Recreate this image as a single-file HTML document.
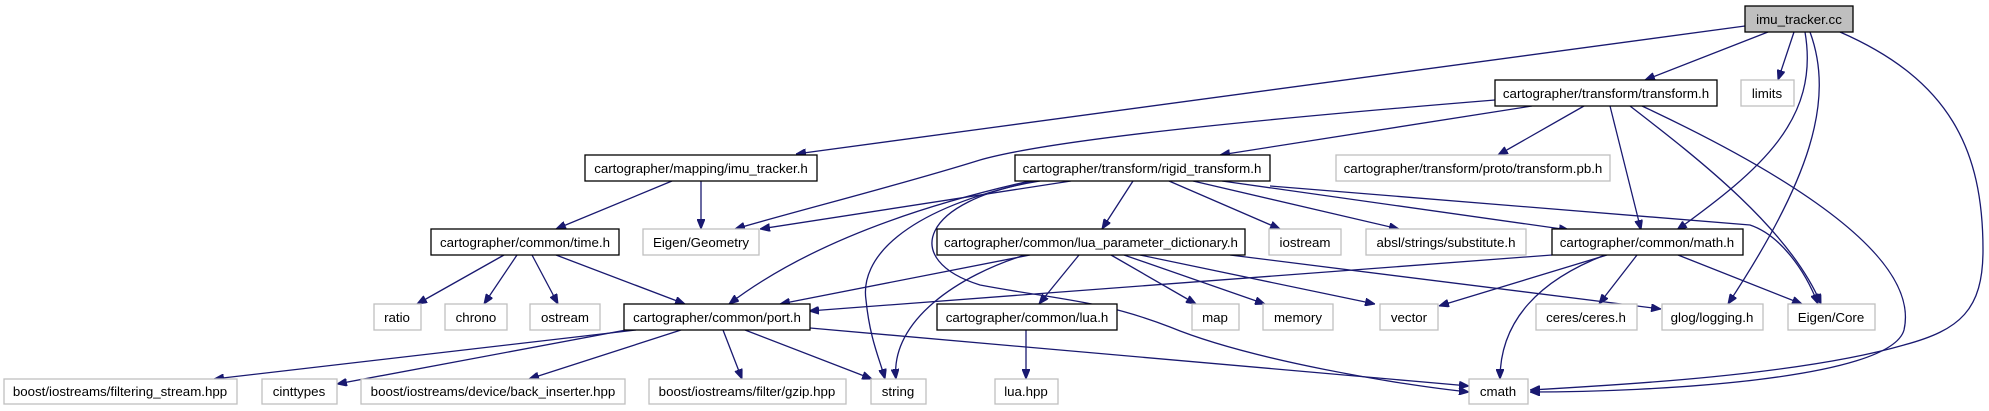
<!DOCTYPE html>
<html><head><meta charset="utf-8"><style>
html,body{margin:0;padding:0;background:#fff;}
svg{display:block;}
text{font-family:"Liberation Sans",Arial,sans-serif;font-size:13.3px;fill:#000;}
.e{fill:none;stroke:#191970;stroke-width:1.3;}
.b{fill:#fff;stroke:#000;stroke-width:1.3;}
.g{fill:#fff;stroke:#bfbfbf;stroke-width:1.3;}
</style></head><body>
<svg width="1989" height="411" viewBox="0 0 1989 411" xmlns="http://www.w3.org/2000/svg">
<defs><marker id="a" viewBox="0 0 10 8" refX="10" refY="4" markerWidth="10" markerHeight="8" markerUnits="userSpaceOnUse" orient="auto"><path d="M0,0 L10,4 L0,8 z" fill="#191970" stroke="#191970"/></marker></defs>
<g marker-end="url(#a)">
<path class="e" d="M1745,26 L796,154"/>
<path class="e" d="M1768,32 L1645,80"/>
<path class="e" d="M1794,32 L1778,80"/>
<path class="e" d="M1805,32 C1820,120 1760,170 1677,230"/>
<path class="e" d="M1810,32 C1835,100 1810,180 1728,304"/>
<path class="e" d="M1840,32 C1950,80 1983,150 1983,250 C1983,310 1960,330 1904,345 C1800,375 1620,385 1530,390"/>
<path class="e" d="M1495,100 C1250,120 1050,140 980,160 C900,185 800,210 735,229"/>
<path class="e" d="M1532,106 L1220,155"/>
<path class="e" d="M1584,106 L1498,155"/>
<path class="e" d="M1610,106 L1641,230"/>
<path class="e" d="M1630,106 C1700,160 1790,230 1821,304"/>
<path class="e" d="M1642,106 C1800,180 1920,260 1904,330 C1890,380 1650,392 1530,392"/>
<path class="e" d="M672,181 L556,229"/>
<path class="e" d="M701,181 L701,229"/>
<path class="e" d="M1071,181 L760,229"/>
<path class="e" d="M1030,181 C900,210 800,250 729,304"/>
<path class="e" d="M1035,181 C900,210 860,260 866,300 C870,340 880,360 885,379"/>
<path class="e" d="M1040,181 C920,200 900,260 980,285 C1060,300 1100,300 1170,327 C1250,360 1400,385 1469,392"/>
<path class="e" d="M1133,181 L1102,229"/>
<path class="e" d="M1169,181 L1280,229"/>
<path class="e" d="M1193,181 L1399,229"/>
<path class="e" d="M1222,181 L1569,230"/>
<path class="e" d="M1270,186 L1750,225 C1780,235 1805,270 1818,304"/>
<path class="e" d="M1030,255 L780,304"/>
<path class="e" d="M1025,255 C960,275 890,320 896,379"/>
<path class="e" d="M1079,255 L1039,304"/>
<path class="e" d="M1111,255 L1196,304"/>
<path class="e" d="M1124,255 L1265,304"/>
<path class="e" d="M1140,255 L1375,304"/>
<path class="e" d="M1230,255 L1661,309"/>
<path class="e" d="M504,255 L417,304"/>
<path class="e" d="M517,255 L484,304"/>
<path class="e" d="M532,255 L558,304"/>
<path class="e" d="M556,255 L685,304"/>
<path class="e" d="M1552,255 L809,311"/>
<path class="e" d="M1607,255 L1439,306"/>
<path class="e" d="M1637,255 L1599,304"/>
<path class="e" d="M1678,255 L1802,304"/>
<path class="e" d="M1605,255 C1540,280 1500,320 1500,379"/>
<path class="e" d="M636,330 L214,379"/>
<path class="e" d="M626,330 L337,384"/>
<path class="e" d="M681,330 L529,379"/>
<path class="e" d="M723,330 L742,379"/>
<path class="e" d="M745,330 L872,379"/>
<path class="e" d="M810,328 L1469,386"/>
<path class="e" d="M1026,330 L1026,379"/>
</g>
<rect x="1745" y="6" width="108" height="26" fill="#bfbfbf" stroke="#000" stroke-width="1.3"/><text x="1799" y="24" text-anchor="middle">imu_tracker.cc</text>
<rect class="b" x="1495" y="80" width="222" height="26"/><text x="1606" y="98" text-anchor="middle">cartographer/transform/transform.h</text>
<rect class="g" x="1741" y="80" width="53" height="26"/><text x="1767" y="98" text-anchor="middle">limits</text>
<rect class="b" x="585" y="155" width="232" height="26"/><text x="701" y="173" text-anchor="middle">cartographer/mapping/imu_tracker.h</text>
<rect class="b" x="1015" y="155" width="255" height="26"/><text x="1142" y="173" text-anchor="middle">cartographer/transform/rigid_transform.h</text>
<rect class="g" x="1336" y="155" width="274" height="26"/><text x="1473" y="173" text-anchor="middle">cartographer/transform/proto/transform.pb.h</text>
<rect class="b" x="431" y="229" width="188" height="26"/><text x="525" y="247" text-anchor="middle">cartographer/common/time.h</text>
<rect class="g" x="643" y="229" width="116" height="26"/><text x="701" y="247" text-anchor="middle">Eigen/Geometry</text>
<rect class="b" x="937" y="229" width="308" height="26"/><text x="1091" y="247" text-anchor="middle">cartographer/common/lua_parameter_dictionary.h</text>
<rect class="g" x="1269" y="229" width="72" height="26"/><text x="1305" y="247" text-anchor="middle">iostream</text>
<rect class="g" x="1366" y="229" width="160" height="26"/><text x="1446" y="247" text-anchor="middle">absl/strings/substitute.h</text>
<rect class="b" x="1552" y="229" width="191" height="26"/><text x="1647" y="247" text-anchor="middle">cartographer/common/math.h</text>
<rect class="g" x="374" y="304" width="47" height="26"/><text x="397" y="322" text-anchor="middle">ratio</text>
<rect class="g" x="445" y="304" width="62" height="26"/><text x="476" y="322" text-anchor="middle">chrono</text>
<rect class="g" x="530" y="304" width="70" height="26"/><text x="565" y="322" text-anchor="middle">ostream</text>
<rect class="b" x="624" y="304" width="186" height="26"/><text x="717" y="322" text-anchor="middle">cartographer/common/port.h</text>
<rect class="b" x="937" y="304" width="180" height="26"/><text x="1027" y="322" text-anchor="middle">cartographer/common/lua.h</text>
<rect class="g" x="1192" y="304" width="47" height="26"/><text x="1215" y="322" text-anchor="middle">map</text>
<rect class="g" x="1263" y="304" width="70" height="26"/><text x="1298" y="322" text-anchor="middle">memory</text>
<rect class="g" x="1380" y="304" width="58" height="26"/><text x="1409" y="322" text-anchor="middle">vector</text>
<rect class="g" x="1536" y="304" width="101" height="26"/><text x="1586" y="322" text-anchor="middle">ceres/ceres.h</text>
<rect class="g" x="1662" y="304" width="101" height="26"/><text x="1712" y="322" text-anchor="middle">glog/logging.h</text>
<rect class="g" x="1788" y="304" width="87" height="26"/><text x="1831" y="322" text-anchor="middle">Eigen/Core</text>
<rect class="g" x="4" y="379" width="233" height="25"/><text x="120" y="396" text-anchor="middle">boost/iostreams/filtering_stream.hpp</text>
<rect class="g" x="262" y="379" width="75" height="25"/><text x="299" y="396" text-anchor="middle">cinttypes</text>
<rect class="g" x="361" y="379" width="264" height="25"/><text x="493" y="396" text-anchor="middle">boost/iostreams/device/back_inserter.hpp</text>
<rect class="g" x="649" y="379" width="197" height="25"/><text x="747" y="396" text-anchor="middle">boost/iostreams/filter/gzip.hpp</text>
<rect class="g" x="871" y="379" width="55" height="25"/><text x="898" y="396" text-anchor="middle">string</text>
<rect class="g" x="995" y="379" width="63" height="25"/><text x="1026" y="396" text-anchor="middle">lua.hpp</text>
<rect class="g" x="1469" y="379" width="59" height="25"/><text x="1498" y="396" text-anchor="middle">cmath</text>
</svg>
</body></html>
